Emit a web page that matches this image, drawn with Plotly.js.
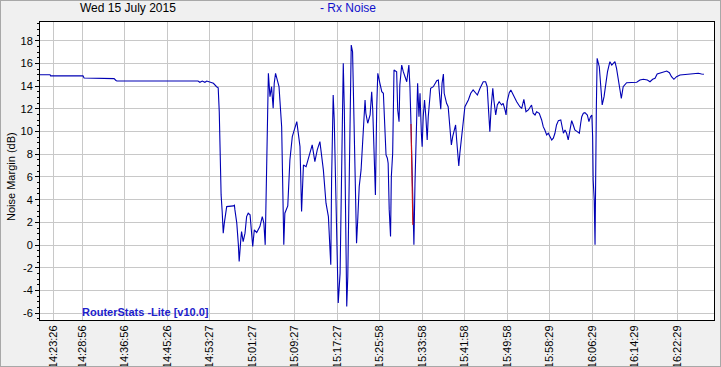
<!DOCTYPE html>
<html>
<head>
<meta charset="utf-8">
<script src="https://cdn.plot.ly/plotly-3.0.1.min.js"></script>
<style>
  html, body { margin: 0; padding: 0; background: #F0F0F0; }
  #wrap { position: relative; width: 721px; height: 367px; }
  #chart { width: 721px; height: 367px; }
  #frame { position: absolute; left: 0; top: 0; width: 719px; height: 365px; border: 1px solid #A8A8A8; pointer-events: none; }
</style>
</head>
<body>
<div id="wrap"><div id="chart"></div><div id="frame"></div></div>
<script>
// sample position (≈30 s samples, index 0 = 14:23:26)
const samples = [
  -4.9, -1.1, -0.9, 11.3, 11.7, 16.6, 16.9, 23.0, 23.7, 24.1, 54.6, 55.3, 56.2, 57.2, 57.9, 59.1, 60.4, 61.6, 62.2, 62.6,
  62.9, 63.3, 63.7, 64.1, 64.5, 65.0, 65.4, 67.9, 68.3, 68.5, 69.2, 69.8, 70.1, 70.7, 71.0, 71.6, 72.3, 72.9, 73.5, 74.2,
  74.8, 75.2, 75.8, 76.7, 77.9, 78.8, 79.4, 79.9, 80.5, 81.1, 81.7, 82.3, 82.9, 83.3, 83.8, 85.1, 86.1, 86.5, 86.9, 87.3,
  88.4, 89.2, 90.1, 91.8, 93.0, 93.6, 94.3, 95.3, 96.3, 97.6, 98.6, 99.5, 100.5, 101.2, 101.8, 102.8, 103.7, 104.3, 104.6, 104.9,
  105.5, 105.9, 106.6, 107.0, 107.4, 108.1, 108.6, 109.1, 109.3, 109.7, 110.1, 110.6, 111.0, 111.4, 111.8, 112.3, 112.8, 113.3, 113.8, 114.3,
  114.8, 115.3, 116.0, 116.6, 117.1, 117.5, 117.8, 118.5, 119.4, 120.0, 120.4, 120.9, 121.4, 121.9, 122.3, 123.1, 123.8, 124.4, 125.0, 125.4,
  125.9, 126.2, 126.6, 127.1, 127.4, 127.9, 128.4, 129.4, 129.8, 130.3, 130.6, 131.3, 131.9, 132.5, 133.2, 134.0, 134.4, 134.8, 135.5, 135.9,
  136.3, 136.9, 137.3, 137.8, 138.2, 138.7, 139.0, 139.4, 139.9, 140.4, 140.9, 141.3, 142.2, 143.2, 144.5, 145.1, 145.4, 146.0, 146.5, 147.0,
  147.3, 148.2, 148.8, 149.5, 150.0, 150.5, 151.1, 151.6, 152.0, 152.5, 152.8, 153.2, 153.9, 154.5, 155.1, 156.4, 157.3, 158.2, 159.8, 160.8,
  162.0, 162.9, 163.5, 164.0, 164.5, 165.0, 165.6, 166.0, 166.7, 167.3, 168.0, 168.9, 169.5, 170.2, 170.6, 171.0, 171.8, 172.4, 173.3, 174.6,
  175.8, 176.5, 177.3, 177.7, 178.1, 179.0, 180.2, 180.8, 181.5, 182.1, 183.1, 184.0, 184.6, 185.2, 185.9, 186.5, 187.1, 187.8, 188.4, 189.0,
  189.6, 190.3, 191.2, 191.7, 192.2, 192.8, 193.4, 194.0, 194.7, 195.3, 195.9, 196.5, 197.4, 198.2, 198.7, 199.1, 199.7, 200.3, 201.2, 201.8,
  202.4, 202.9, 203.2, 203.4, 203.8, 204.1, 204.6, 204.9, 205.7, 206.2, 206.8, 207.5, 208.2, 208.8, 209.7, 210.4, 211.0, 211.6, 212.2, 212.8,
  213.5, 214.0, 214.7, 216.0, 217.9, 219.8, 221.0, 222.3, 223.8, 224.8, 225.8, 226.7, 227.5, 228.5, 229.8, 231.1, 232.1, 232.9, 233.8, 234.8,
  236.1, 237.9, 239.8, 241.7, 243.0, 244.2, 245.1
];
// Rx noise margin (dB)
const rxNoise = [
  15.0, 15.0, 14.9, 14.9, 14.72, 14.72, 14.66, 14.66, 14.5, 14.45, 14.45, 14.34, 14.45, 14.34, 14.45, 14.37, 14.25, 13.95, 13.86, 11.75,
  7.5, 4.42, 2.95, 1.05, 1.93, 2.95, 3.39, 3.45, 3.51, 3.1, 1.93, 0.02, -1.45, 0.46, 1.19, 0.31, 1.05, 2.51, 2.81, 2.66,
  0.46, -0.13, 1.34, 1.1, 1.63, 2.51, 1.93, 0.02, 7.5, 15.13, 13.07, 13.95, 12.05, 14.25, 15.13, 13.95, 10.43, 3.39, 0.02, 2.81,
  3.45, 7.5, 9.55, 10.87, 8.67, 2.95, 7.06, 6.91, 7.65, 8.82, 7.35, 8.38, 9.11, 7.79, 6.62, 3.69, 2.51, -0.42, -1.74, 5.74,
  13.22, 11.02, 2.51, -2.47, -5.11, -2.47, 3.98, 11.9, 16.01, 11.9, 5.45, -5.41, -2.77, 4.27, 12.19, 17.62, 17.03, 10.14, 3.98, 0.17,
  2.51, 5.15, 6.62, 9.26, 11.9, 12.78, 11.61, 10.73, 11.46, 13.51, 11.9, 7.79, 4.42, 12.19, 15.13, 14.25, 13.51, 13.37, 9.55, 7.94,
  7.65, 7.21, 3.1, 0.75, 6.03, 8.09, 15.42, 15.27, 11.9, 10.87, 14.1, 15.86, 15.27, 14.83, 14.39, 15.86, 13.95, 10.67, 1.78, 0.02,
  5.45, 12.19, 14.25, 11.31, 13.37, 9.85, 8.67, 11.31, 12.78, 11.31, 9.26, 11.31, 13.81, 13.95, 14.48, 14.54, 13.37, 11.96, 14.25, 15.07,
  13.37, 12.49, 12.19, 10.29, 8.82, 9.55, 10.14, 10.58, 9.26, 7.79, 6.97, 8.09, 9.55, 11.31, 12.19, 12.78, 13.37, 13.66, 13.22, 13.81,
  14.39, 14.39, 13.95, 11.9, 9.99, 12.19, 13.81, 12.78, 11.46, 12.34, 12.63, 12.34, 12.49, 11.9, 11.46, 12.63, 13.42, 13.66, 13.22, 12.63,
  12.19, 12.05, 12.84, 12.19, 11.75, 11.9, 12.34, 11.61, 11.46, 11.75, 11.61, 11.02, 10.43, 10.14, 9.7, 9.85, 9.55, 9.26, 9.41, 9.85,
  10.58, 10.96, 11.02, 10.43, 9.85, 10.14, 9.85, 9.26, 10.29, 10.96, 10.58, 10.14, 9.99, 9.85, 10.73, 11.31, 11.61, 11.66, 11.46, 10.87,
  11.31, 11.46, 9.55, 5.74, 3.98, 0.02, 12.19, 16.45, 15.71, 14.25, 12.34, 13.07, 14.1, 15.27, 16.15, 15.86, 16.01, 16.15, 15.57, 14.83,
  13.66, 12.93, 13.95, 14.3, 14.34, 14.34, 14.54, 14.6, 14.54, 14.39, 14.6, 14.69, 15.07, 15.13, 15.27, 15.33, 15.18, 14.83, 14.6, 14.83,
  14.98, 15.01, 15.04, 15.07, 15.13, 15.07, 15.04
];
// highlighted (red) drop
const redSamples = [134.8, 135.5];
const redNoise = [10.67, 1.78];

const xTickVals = [0, 11, 27, 43, 59, 75, 91, 107, 123, 139, 155, 171, 187, 203, 219, 235];
const xTickText = ["14:23:26", "14:28:56", "14:36:56", "14:45:26", "14:53:27", "15:01:27", "15:09:27", "15:17:27",
  "15:25:58", "15:33:58", "15:41:58", "15:49:58", "15:58:29", "16:06:29", "16:14:29", "16:22:29"];
const yTickVals = [-6, -4, -2, 0, 2, 4, 6, 8, 10, 12, 14, 16, 18];
const yTickText = ["-6", "-4", "-2", "0", "2", "4", "6", "8", "10", "12", "14", "16", "18"];

const FONT = "Liberation Sans, Arial, sans-serif";

const traces = [
  { x: samples, y: rxNoise, type: "scatter", mode: "lines", line: { color: "#0000B4", width: 1.1 }, hoverinfo: "skip", showlegend: false },
  { x: redSamples, y: redNoise, type: "scatter", mode: "lines", line: { color: "#D01010", width: 1.1 }, hoverinfo: "skip", showlegend: false }
];

const layout = {
  width: 721, height: 367,
  margin: { l: 40, r: 7, t: 22, b: 47, pad: 0 },
  paper_bgcolor: "#F0F0F0",
  plot_bgcolor: "#FFFFFF",
  font: { family: FONT, size: 11, color: "#000" },
  showlegend: false,
  xaxis: {
    range: [-4.9, 248.9],
    tickmode: "array", tickvals: xTickVals, ticktext: xTickText,
    tickangle: -90,
    ticks: "", showgrid: true, gridcolor: "#C8C8C8", gridwidth: 1,
    showline: true, linecolor: "#000", linewidth: 1, mirror: true,
    zeroline: false,
    tickfont: { family: FONT, size: 11, color: "#000" }
  },
  yaxis: {
    range: [-6.6, 19.65],
    tickmode: "array", tickvals: yTickVals, ticktext: yTickText,
    ticks: "outside", ticklen: 4, tickcolor: "#000", tickwidth: 1,
    minor: { tickmode: "linear", tick0: 0, dtick: 0.5, ticks: "outside", ticklen: 2, tickcolor: "#000", showgrid: false },
    showgrid: true, gridcolor: "#C8C8C8", gridwidth: 1,
    showline: true, linecolor: "#000", linewidth: 1, mirror: true,
    zeroline: false,
    tickfont: { family: FONT, size: 11, color: "#000" }
  },
  annotations: [
    { text: "Wed 15 July 2015", xref: "paper", yref: "paper", x: 0.131, y: 1.047, xanchor: "center", yanchor: "middle",
      showarrow: false, font: { family: FONT, size: 12, color: "#000" } },
    { text: "- Rx Noise", xref: "paper", yref: "paper", x: 0.457, y: 1.047, xanchor: "center", yanchor: "middle",
      showarrow: false, font: { family: FONT, size: 12, color: "#1010CC" } },
    { text: "Noise Margin (dB)", xref: "paper", yref: "paper", x: -0.043, y: 0.48, xanchor: "center", yanchor: "middle",
      textangle: -90, showarrow: false, font: { family: FONT, size: 11, color: "#000" } },
    { text: "<b>RouterStats -Lite [v10.0]</b>", xref: "paper", yref: "paper", x: 0.06, y: 0.0, xanchor: "left", yanchor: "bottom",
      showarrow: false, font: { family: FONT, size: 11, color: "#2020CC" } }
  ]
};

Plotly.newPlot("chart", traces, layout, { staticPlot: true, displayModeBar: false });
</script>
</body>
</html>
